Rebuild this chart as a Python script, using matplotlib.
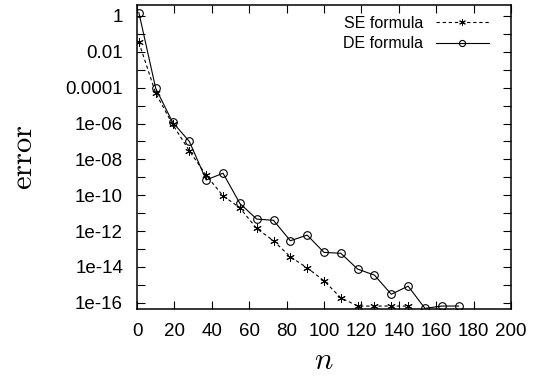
import matplotlib
matplotlib.use('Agg')
import matplotlib.pyplot as plt

n_se = [1, 10, 19, 28, 37, 46, 55, 64, 73, 82, 91, 100, 109, 118, 127, 136, 145]
err_se = [3.4e-2, 4.9e-5, 9.1e-7, 3.0e-8, 1.3e-9, 9.3e-11, 2.0e-11, 1.4e-12, 2.9e-13,
          3.7e-14, 8.9e-15, 1.7e-15, 1.9e-16, 6.6e-17, 6.6e-17, 6.6e-17, 6.6e-17]

n_de = [1, 10, 19, 28, 37, 46, 55, 64, 73, 82, 91, 100, 109, 118, 127, 136, 145, 154, 163, 172]
err_de = [1.53, 9.2e-5, 1.2e-6, 1.0e-7, 7.1e-10, 1.7e-9, 3.5e-11, 4.7e-12, 4.0e-12, 2.9e-13,
          6.0e-13, 6.5e-14, 5.8e-14, 7.6e-15, 3.5e-15, 3.0e-16, 8.5e-16, 4.9e-17, 6.6e-17, 6.6e-17]

xticks = list(range(0, 201, 20))
yticks = [1, 1e-2, 1e-4, 1e-6, 1e-8, 1e-10, 1e-12, 1e-14, 1e-16]
yticklabels = ['1', '0.01', '0.0001', '1e-06', '1e-08', '1e-10', '1e-12', '1e-14', '1e-16']
yminor = [1e-1, 1e-3, 1e-5, 1e-7, 1e-9, 1e-11, 1e-13, 1e-15]

plt.rcParams['font.family'] = ['Liberation Sans', 'DejaVu Sans']
plt.rcParams['mathtext.fontset'] = 'cm'

fig = plt.figure(figsize=(5.39, 3.76), dpi=100)
ax = fig.add_axes([0.2542, 0.177, 0.948 - 0.2542, 0.9875 - 0.177])

ax.plot(n_se, err_se, color='black', linestyle=(0, (3, 2.5)), linewidth=0.8,
        marker=(6, 2, 0), markersize=6, markeredgewidth=0.7, label='SE formula')
ax.plot(n_de, err_de, color='black', linestyle='-', linewidth=0.8,
        marker='o', markersize=5.5, markerfacecolor='none', markeredgewidth=0.8,
        label='DE formula')

ax.set_yscale('log')
ax.set_xlim(0, 200)
ax.set_ylim(10 ** -16.37, 10 ** 0.63)
ax.set_xticks(xticks)
ax.set_xticklabels([str(t) for t in xticks])
ax.set_yticks(yticks)
ax.set_yticklabels(yticklabels)
ax.set_yticks(yminor, minor=True)
ax.set_yticklabels([''] * len(yminor), minor=True)
ax.tick_params(which='both', direction='in', top=True, right=True, length=6,
               width=0.8, labelsize=13.5)
ax.tick_params(axis='y', which='both', pad=10)
ax.tick_params(axis='x', which='both', pad=10)
ax.tick_params(axis='x', which='minor', bottom=False, top=False)
for s in ax.spines.values():
    s.set_linewidth(1.1)

ax.set_xlabel(r'$n$', fontsize=22, labelpad=4)
ax.set_ylabel(r'$\mathrm{error}$', fontsize=22, labelpad=19)

ax.legend(loc='upper right', frameon=False, markerfirst=False, fontsize=11.5,
          handlelength=3.3, borderaxespad=0.3, labelspacing=0.35, markerscale=0.8,
          bbox_to_anchor=(0.97, 1.0))

fig.savefig('out.png', dpi=100)
